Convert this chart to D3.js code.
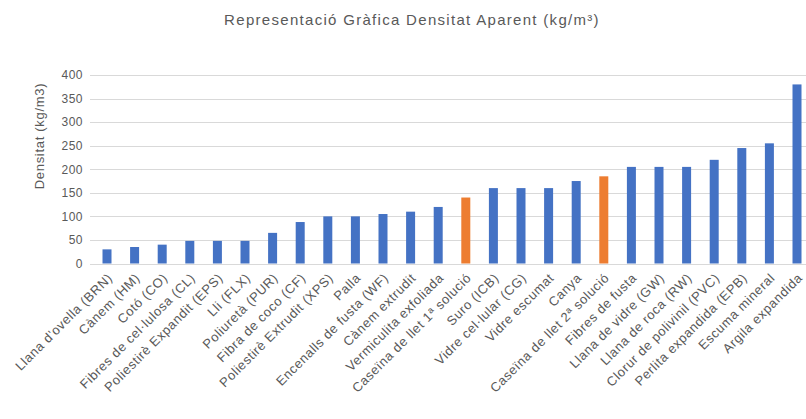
<!DOCTYPE html>
<html><head><meta charset="utf-8">
<script src="https://cdn.jsdelivr.net/npm/d3@7"></script>
<style>body{margin:0;background:#fff}svg{display:block}text{font-family:Arial,"Liberation Sans",sans-serif}</style>
</head><body><svg id="c" width="806" height="419"></svg>
<script>
const categories = ["Llana d'ovella (BRN)","Cànem (HM)","Cotó (CO)","Fibres de cel·lulosa (CL)","Poliestirè Expandit (EPS)","Lli (FLX)","Poliuretà (PUR)","Fibra de coco (CF)","Poliestirè Extrudit (XPS)","Palla","Encenalls de fusta (WF)","Cànem extrudit","Vermiculita exfoliada","Caseïna de llet 1ª solució","Suro (ICB)","Vidre cel·lular (CG)","Vidre escumat","Canya","Caseïna de llet 2ª solució","Fibres de fusta","Llana de vidre (GW)","Llana de roca (RW)","Clorur de polivinil (PVC)","Perlita expandida (EPB)","Escuma mineral","Argila expandida"];
const values = [30,35,40,48,48,48,65,88,100,100,105,110,120,140,160,160,160,175,185,205,205,205,220,245,255,380];
const highlighted = ["Caseïna de llet 1ª solució","Caseïna de llet 2ª solució"];
const yTicks = [0,50,100,150,200,250,300,350,400];
const title = "Representació Gràfica Densitat Aparent (kg/m³)";
const yTitle = "Densitat (kg/m3)";

const svg = d3.select("#c");
const x = d3.scaleBand().domain(categories).range([93.2, 810.8]).padding(0);
const y = d3.scaleLinear().domain([0,400]).range([263.5, 75]);
const barW = 9;

svg.append("g").selectAll("line").data(yTicks).join("line")
  .attr("x1", 90).attr("x2", 806)
  .attr("y1", d => Math.round(y(d)) + 0.5).attr("y2", d => Math.round(y(d)) + 0.5)
  .attr("stroke", "#d9d9d9").attr("stroke-width", 1);

const yAxis = d3.axisLeft(y).tickValues(yTicks).tickSize(0).tickPadding(0);
const gy = svg.append("g").attr("transform", "translate(83,0)").call(yAxis);
gy.select(".domain").remove();
gy.selectAll("text").attr("fill", "#595959").style("font-size", "12px").style("letter-spacing", "0.5px").style("font-family", "Arial, 'Liberation Sans', sans-serif");

svg.append("g").selectAll("rect").data(categories).join("rect")
  .attr("x", d => x(d) + (x.bandwidth() - barW) / 2)
  .attr("width", barW)
  .attr("y", (d, i) => y(values[i]))
  .attr("height", (d, i) => y(0) - y(values[i]))
  .attr("fill", d => highlighted.includes(d) ? "#ED7D31" : "#4472C4");

const xAxis = d3.axisBottom(x).tickSize(0).tickPadding(0);
const gx = svg.append("g").attr("transform", "translate(0,263.5)").call(xAxis);
gx.select(".domain").remove();
gx.selectAll("text")
  .attr("fill", "#595959").style("font-size", "13px").style("letter-spacing", "0.6px").style("font-family", "Arial, 'Liberation Sans', sans-serif")
  .attr("text-anchor", "end")
  .attr("dy", "0.35em")
  .attr("transform", "translate(3,12) rotate(-45)");

svg.append("text").attr("x", 412).attr("y", 25).attr("text-anchor", "middle")
  .attr("fill", "#595959").style("font-size", "15px").style("letter-spacing", "1.3px").text(title);

svg.append("text").attr("transform", "translate(44,136) rotate(-90)").attr("text-anchor", "middle")
  .attr("fill", "#595959").style("font-size", "13px").style("letter-spacing", "0.7px").text(yTitle);
</script></body></html>
